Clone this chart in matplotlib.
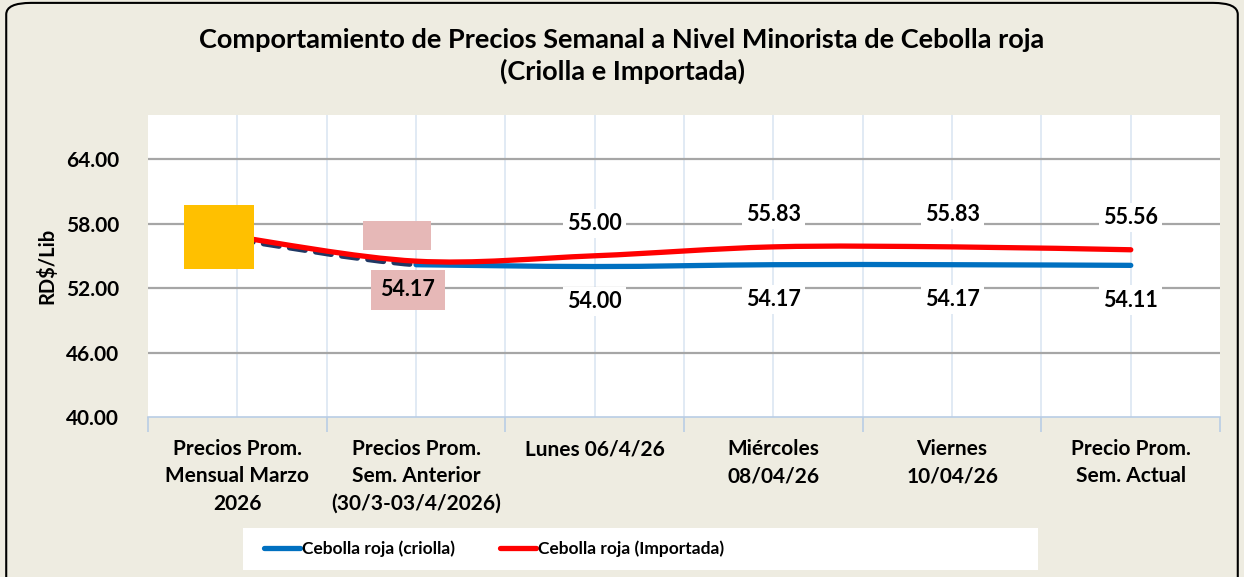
import numpy as np
import matplotlib.pyplot as plt
from matplotlib.path import Path
from matplotlib.patches import PathPatch, FancyBboxPatch, Rectangle

plt.rcParams['font.family'] = ['Lato', 'DejaVu Sans']
plt.rcParams['font.weight'] = 'bold'

# Datos
categorias = ['Precios Prom.\nMensual Marzo\n2026',
              'Precios Prom.\nSem. Anterior\n(30/3-03/4/2026)',
              'Lunes 06/4/26',
              'Miércoles\n08/04/26',
              'Viernes\n10/04/26',
              'Precio Prom.\nSem. Actual']
criolla = [56.50, 54.17, 54.00, 54.17, 54.17, 54.11]
importada = [56.75, 54.50, 55.00, 55.83, 55.83, 55.56]
y_ticks = [40, 46, 52, 58, 64]

bg = '#eeece1'
azul = '#0070c0'
rojo = '#ff0000'


def curva_suave(x, y):
    # curva tipo "suavizada" de Excel (Catmull-Rom -> Bezier)
    p = np.column_stack([x, y]).astype(float)
    ext = np.vstack([p[0], p, p[-1]])
    verts = [p[0]]
    codes = [Path.MOVETO]
    for i in range(len(p) - 1):
        p0, p1, p2, p3 = ext[i], ext[i + 1], ext[i + 2], ext[i + 3]
        verts += [p1 + (p2 - p0) / 6, p2 - (p3 - p1) / 6, p2]
        codes += [Path.CURVE4] * 3
    return Path(verts, codes)


fig = plt.figure(figsize=(12.44, 5.77), dpi=100, facecolor=bg)
fig.patches.append(FancyBboxPatch((0.005, -0.05), 0.99, 1.045, boxstyle='round,pad=0,rounding_size=0.02',
                                  transform=fig.transFigure, facecolor=bg, edgecolor='black',
                                  linewidth=1.5, zorder=-10))
# caja blanca de la leyenda
fig.patches.append(Rectangle((243 / 1244, 1 - 570 / 577), 795 / 1244, 42 / 577,
                             transform=fig.transFigure, facecolor='white', edgecolor='none', zorder=-5))

ax = fig.add_axes([0.119, 0.2773, 0.8618, 0.5234])
ax.set_facecolor('white')
x = np.arange(len(categorias))
ax.set_xlim(-0.5, len(categorias) - 0.5)
ax.set_ylim(40, 68.1)

# rejilla
for xv in np.arange(-0.5, len(categorias), 0.5)[1:-1]:
    ax.axvline(xv, color='#dce6f2', lw=1.2, zorder=0)
for yv in y_ticks[1:]:
    ax.axhline(yv, color='#a6a6a6', lw=1.6, zorder=0)

# series
p_cri = curva_suave(x[:3], criolla[:3])
ax.add_patch(PathPatch(curva_suave(x[1:], criolla[1:]), fill=False, edgecolor=azul,
                       lw=3.8, capstyle='round', zorder=3))
ax.add_patch(PathPatch(Path(p_cri.vertices[:4], p_cri.codes[:4]),
                       fill=False, edgecolor='#1f3864', lw=3.8, linestyle=(0, (3, 2)),
                       capstyle='round', zorder=3))
ax.add_patch(PathPatch(curva_suave(x, importada), fill=False, edgecolor=rojo,
                       lw=3.8, capstyle='round', zorder=4))
ax.plot([], [], color=azul, lw=3.8, solid_capstyle='round', label='Cebolla roja (criolla)')
ax.plot([], [], color=rojo, lw=3.8, solid_capstyle='round', label='Cebolla roja (Importada)')

# etiquetas de datos
for i in range(2, len(x)):
    ax.annotate(f'{importada[i]:.2f}', (x[i], importada[i]), xytext=(0, 23.5), textcoords='offset points',
                ha='center', va='center', fontsize=15.5, fontweight='bold', zorder=6,
                bbox=dict(facecolor='white', edgecolor='none', pad=3))
    ax.annotate(f'{criolla[i]:.2f}', (x[i], criolla[i]), xytext=(0, -25), textcoords='offset points',
                ha='center', va='center', fontsize=15.5, fontweight='bold', zorder=6,
                bbox=dict(facecolor='white', edgecolor='none', pad=3))
ax.annotate(f'{criolla[1]:.2f}', (x[1], criolla[1]), xytext=(-6, -18), textcoords='offset points',
            ha='center', va='center', fontsize=15.5, fontweight='bold', zorder=6,
            bbox=dict(facecolor='#e6b8b7', edgecolor='none', boxstyle='square,pad=0.45'))

# recuadros que ocultan etiquetas
ax.add_patch(Rectangle((-0.298, 53.73), 0.392, 6.03, facecolor='#ffc000', edgecolor='none', zorder=7))
ax.add_patch(Rectangle((0.701, 55.50), 0.381, 2.78, facecolor='#e6b8b7', edgecolor='none', zorder=5))

# ejes
ax.set_yticks(y_ticks)
ax.set_yticklabels([f'{v:.2f}' for v in y_ticks], fontsize=15, fontweight='bold')
ax.set_xticks(np.arange(-0.5, len(categorias), 1.0))
ax.set_xticklabels([])
ax.set_xticks(x, minor=True)
ax.set_xticklabels(categorias, minor=True, fontsize=15, fontweight='bold', linespacing=1.45)
ax.tick_params(axis='x', which='major', length=11, color='#b9cde5', width=1.2)
ax.tick_params(axis='x', which='minor', length=0, pad=16)
ax.tick_params(axis='y', length=0, pad=21)
for s in ['left', 'right', 'top']:
    ax.spines[s].set_visible(False)
ax.spines['bottom'].set_color('#b9cde5')
ax.spines['bottom'].set_linewidth(1.2)
ax.set_ylabel('RD$/Lib', fontsize=14.5, fontweight='bold', labelpad=6)

fig.suptitle('Comportamiento de Precios Semanal a Nivel Minorista de Cebolla roja\n(Criolla e Importada)',
             y=0.952, fontsize=19.5, fontweight='bold', linespacing=1.35)

leg = fig.legend(loc='center', bbox_to_anchor=(494 / 1244, 1 - 549 / 577), ncol=2, frameon=False,
                 fontsize=12.5, handlelength=2.1, handletextpad=0.1, columnspacing=2.6)
for t in leg.get_texts():
    t.set_fontweight('bold')

fig.savefig('out.png', dpi=100, facecolor=bg)
